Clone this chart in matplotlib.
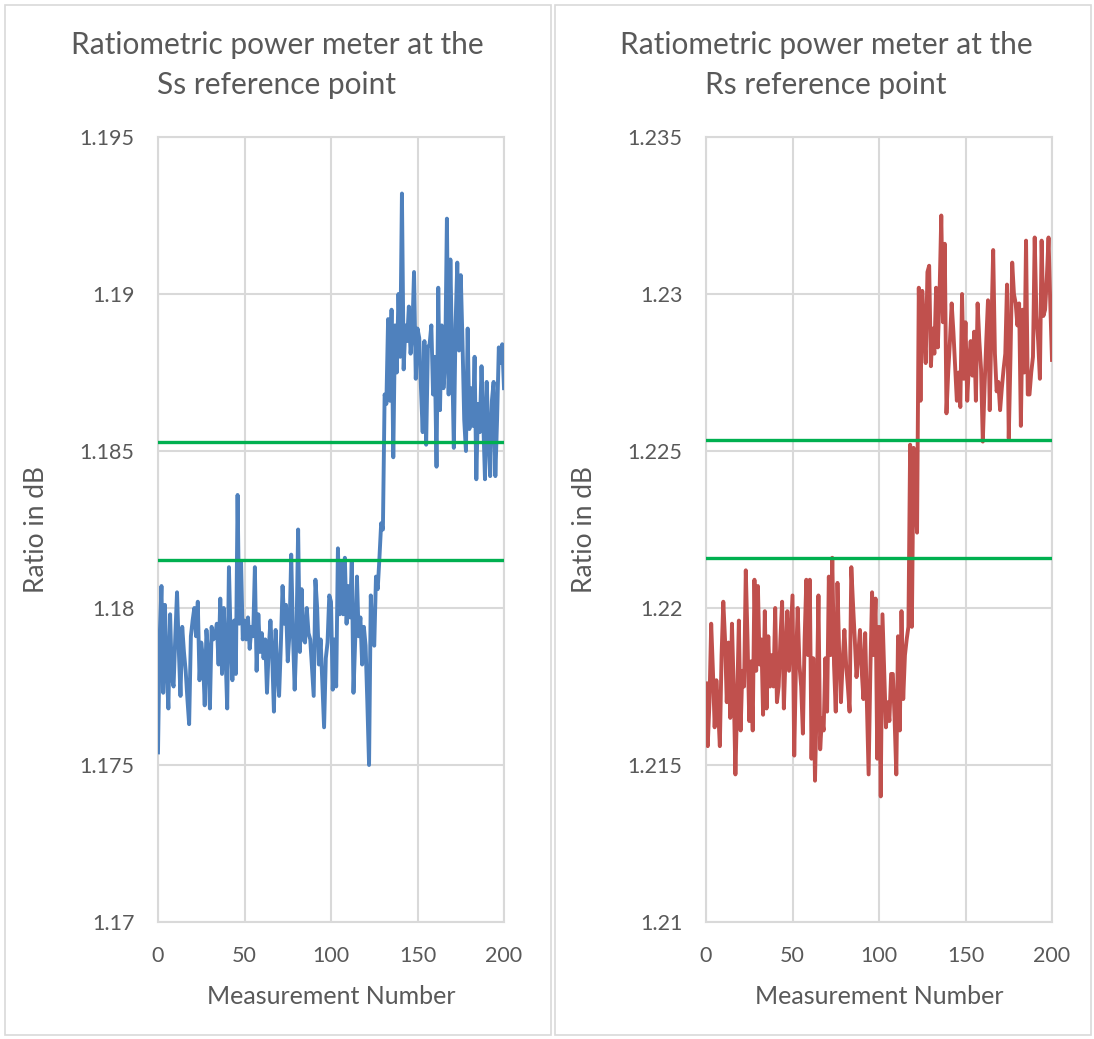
import numpy as np
import matplotlib
matplotlib.use('Agg')
import matplotlib.pyplot as plt
from matplotlib.patches import Rectangle

plt.rcParams['font.family'] = ['Lato', 'DejaVu Sans']

# measured ratios (dB), measurement 0..200
ss_ratio = [
    1.1754, 1.1791, 1.1807, 1.1773, 1.1801, 1.1781, 1.1768, 1.1798, 1.1778, 1.1775,
    1.1791, 1.1805, 1.1787, 1.1772, 1.1794, 1.1786, 1.1780, 1.1771, 1.1763, 1.1791,
    1.1796, 1.1800, 1.1791, 1.1802, 1.1777, 1.1789, 1.1784, 1.1769, 1.1793, 1.1785,
    1.1768, 1.1794, 1.1790, 1.1791, 1.1795, 1.1782, 1.1803, 1.1779, 1.1800, 1.1786,
    1.1768, 1.1813, 1.1790, 1.1777, 1.1796, 1.1779, 1.1836, 1.1795, 1.1815, 1.1790,
    1.1796, 1.1790, 1.1797, 1.1787, 1.1794, 1.1791, 1.1813, 1.1780, 1.1798, 1.1786,
    1.1792, 1.1784, 1.1790, 1.1773, 1.1787, 1.1796, 1.1785, 1.1767, 1.1793, 1.1780,
    1.1772, 1.1788, 1.1807, 1.1795, 1.1801, 1.1783, 1.1792, 1.1817, 1.1792, 1.1774,
    1.1790, 1.1825, 1.1786, 1.1806, 1.1790, 1.1789, 1.1800, 1.1792, 1.1790, 1.1781,
    1.1772, 1.1809, 1.1800, 1.1782, 1.1790, 1.1776, 1.1762, 1.1784, 1.1789, 1.1804,
    1.1802, 1.1774, 1.1790, 1.1775, 1.1819, 1.1798, 1.1815, 1.1798, 1.1816, 1.1795,
    1.1807, 1.1797, 1.1815, 1.1773, 1.1790, 1.1810, 1.1791, 1.1797, 1.1782, 1.1794,
    1.1788, 1.1770, 1.1750, 1.1804, 1.1790, 1.1788, 1.1810, 1.1806, 1.1816, 1.1827,
    1.1825, 1.1868, 1.1865, 1.1892, 1.1866, 1.1895, 1.1848, 1.1890, 1.1875, 1.1900,
    1.1880, 1.1932, 1.1876, 1.1890, 1.1885, 1.1896, 1.1881, 1.1888, 1.1907, 1.1873,
    1.1889, 1.1886, 1.1870, 1.1856, 1.1885, 1.1852, 1.1883, 1.1884, 1.1890, 1.1868,
    1.1880, 1.1845, 1.1902, 1.1863, 1.1890, 1.1870, 1.1878, 1.1924, 1.1868, 1.1911,
    1.1880, 1.1851, 1.1890, 1.1910, 1.1882, 1.1906, 1.1885, 1.1860, 1.1850, 1.1889,
    1.1857, 1.1870, 1.1858, 1.1880, 1.1841, 1.1865, 1.1856, 1.1877, 1.1860, 1.1841,
    1.1872, 1.1855, 1.1842, 1.1866, 1.1872, 1.1842, 1.1860, 1.1883, 1.1878, 1.1884,
    1.1870,
]

rs_ratio = [
    1.2176, 1.2156, 1.2170, 1.2195, 1.2180, 1.2162, 1.2177, 1.2168, 1.2156, 1.2185,
    1.2202, 1.2190, 1.2170, 1.2189, 1.2165, 1.2195, 1.2175, 1.2147, 1.2170, 1.2196,
    1.2161, 1.2180, 1.2175, 1.2212, 1.2190, 1.2164, 1.2183, 1.2161, 1.2209, 1.2180,
    1.2207, 1.2182, 1.2190, 1.2166, 1.2199, 1.2168, 1.2191, 1.2175, 1.2185, 1.2175,
    1.2200, 1.2170, 1.2175, 1.2190, 1.2202, 1.2168, 1.2185, 1.2199, 1.2180, 1.2192,
    1.2204, 1.2153, 1.2182, 1.2200, 1.2182, 1.2175, 1.2160, 1.2190, 1.2209, 1.2185,
    1.2209, 1.2152, 1.2184, 1.2145, 1.2170, 1.2204, 1.2155, 1.2165, 1.2161, 1.2184,
    1.2167, 1.2210, 1.2185, 1.2216, 1.2182, 1.2167, 1.2208, 1.2185, 1.2170, 1.2183,
    1.2193, 1.2182, 1.2175, 1.2167, 1.2213, 1.2201, 1.2190, 1.2178, 1.2185, 1.2193,
    1.2180, 1.2171, 1.2192, 1.2170, 1.2147, 1.2180, 1.2205, 1.2185, 1.2203, 1.2152,
    1.2194, 1.2140, 1.2198, 1.2180, 1.2162, 1.2170, 1.2164, 1.2179, 1.2179, 1.2165,
    1.2147, 1.2191, 1.2161, 1.2199, 1.2171, 1.2185, 1.2190, 1.2194, 1.2252, 1.2194,
    1.2251, 1.2235, 1.2224, 1.2302, 1.2266, 1.2301, 1.2290, 1.2278, 1.2307, 1.2309,
    1.2277, 1.2289, 1.2281, 1.2302, 1.2283, 1.2300, 1.2325, 1.2291, 1.2316, 1.2262,
    1.2275, 1.2285, 1.2297, 1.2288, 1.2277, 1.2266, 1.2275, 1.2264, 1.2300, 1.2273,
    1.2291, 1.2266, 1.2278, 1.2285, 1.2274, 1.2288, 1.2266, 1.2297, 1.2285, 1.2276,
    1.2253, 1.2270, 1.2285, 1.2298, 1.2263, 1.2290, 1.2314, 1.2281, 1.2269, 1.2272,
    1.2263, 1.2270, 1.2276, 1.2281, 1.2303, 1.2254, 1.2280, 1.2310, 1.2300, 1.2297,
    1.2290, 1.2297, 1.2258, 1.2295, 1.2275, 1.2317, 1.2268, 1.2268, 1.2275, 1.2280,
    1.2318, 1.2293, 1.2285, 1.2273, 1.2317, 1.2293, 1.2295, 1.2305, 1.2318, 1.2297,
    1.2279,
]

ss_limits = [1.18153, 1.18528]
rs_limits = [1.22160, 1.22535]

ss_yticks = [1.17, 1.175, 1.18, 1.185, 1.19, 1.195]
rs_yticks = [1.21, 1.215, 1.22, 1.225, 1.23, 1.235]
xticks = [0, 50, 100, 150, 200]

grid_c = '#d9d9d9'
text_c = '#595959'

fig = plt.figure(figsize=(10.94, 10.39), dpi=100)

# chart area borders
fig.patches.append(Rectangle((5 / 1094, 4 / 1039), 546 / 1094, 1030 / 1039,
                             transform=fig.transFigure, fill=False,
                             edgecolor=grid_c, lw=1.2))
fig.patches.append(Rectangle((555 / 1094, 4 / 1039), 536 / 1094, 1030 / 1039,
                             transform=fig.transFigure, fill=False,
                             edgecolor=grid_c, lw=1.2))

panels = [
    (158, ss_ratio, ss_limits, ss_yticks, '#4f81bd',
     'Ratiometric power meter at the\nSs reference point', 277),
    (706, rs_ratio, rs_limits, rs_yticks, '#c0504d',
     'Ratiometric power meter at the\nRs reference point', 826),
]

for left_px, vals, limits, yt, col, title, title_x in panels:
    ax = fig.add_axes([left_px / 1094, 1 - 922 / 1039, 346 / 1094, 785 / 1039])
    x = np.arange(len(vals))
    ax.plot(x, vals, color=col, lw=2.8, zorder=3)
    for lv in limits:
        ax.axhline(lv, color='#00b050', lw=2.4, zorder=4)
    ax.set_xlim(0, 200)
    ax.set_ylim(yt[0], yt[-1])
    ax.set_xticks(xticks)
    ax.set_yticks(yt)
    ax.set_yticklabels(['%g' % v for v in yt])
    ax.grid(True, color=grid_c, lw=1.5)
    ax.set_axisbelow(True)
    for s in ax.spines.values():
        s.set_color(grid_c)
        s.set_linewidth(1.5)
    ax.tick_params(length=0, labelsize=15.5, labelcolor=text_c)
    ax.tick_params(axis='y', pad=17)
    ax.tick_params(axis='x', pad=17)
    ax.set_xlabel('Measurement Number', fontsize=18, color=text_c, labelpad=14)
    ax.set_ylabel('Ratio in dB', fontsize=19, color=text_c, labelpad=22)
    fig.text(title_x / 1094, 1 - 65 / 1039, title, ha='center', va='center',
             fontsize=21.5, color=text_c, linespacing=1.5)

fig.savefig('out.png', dpi=100)
